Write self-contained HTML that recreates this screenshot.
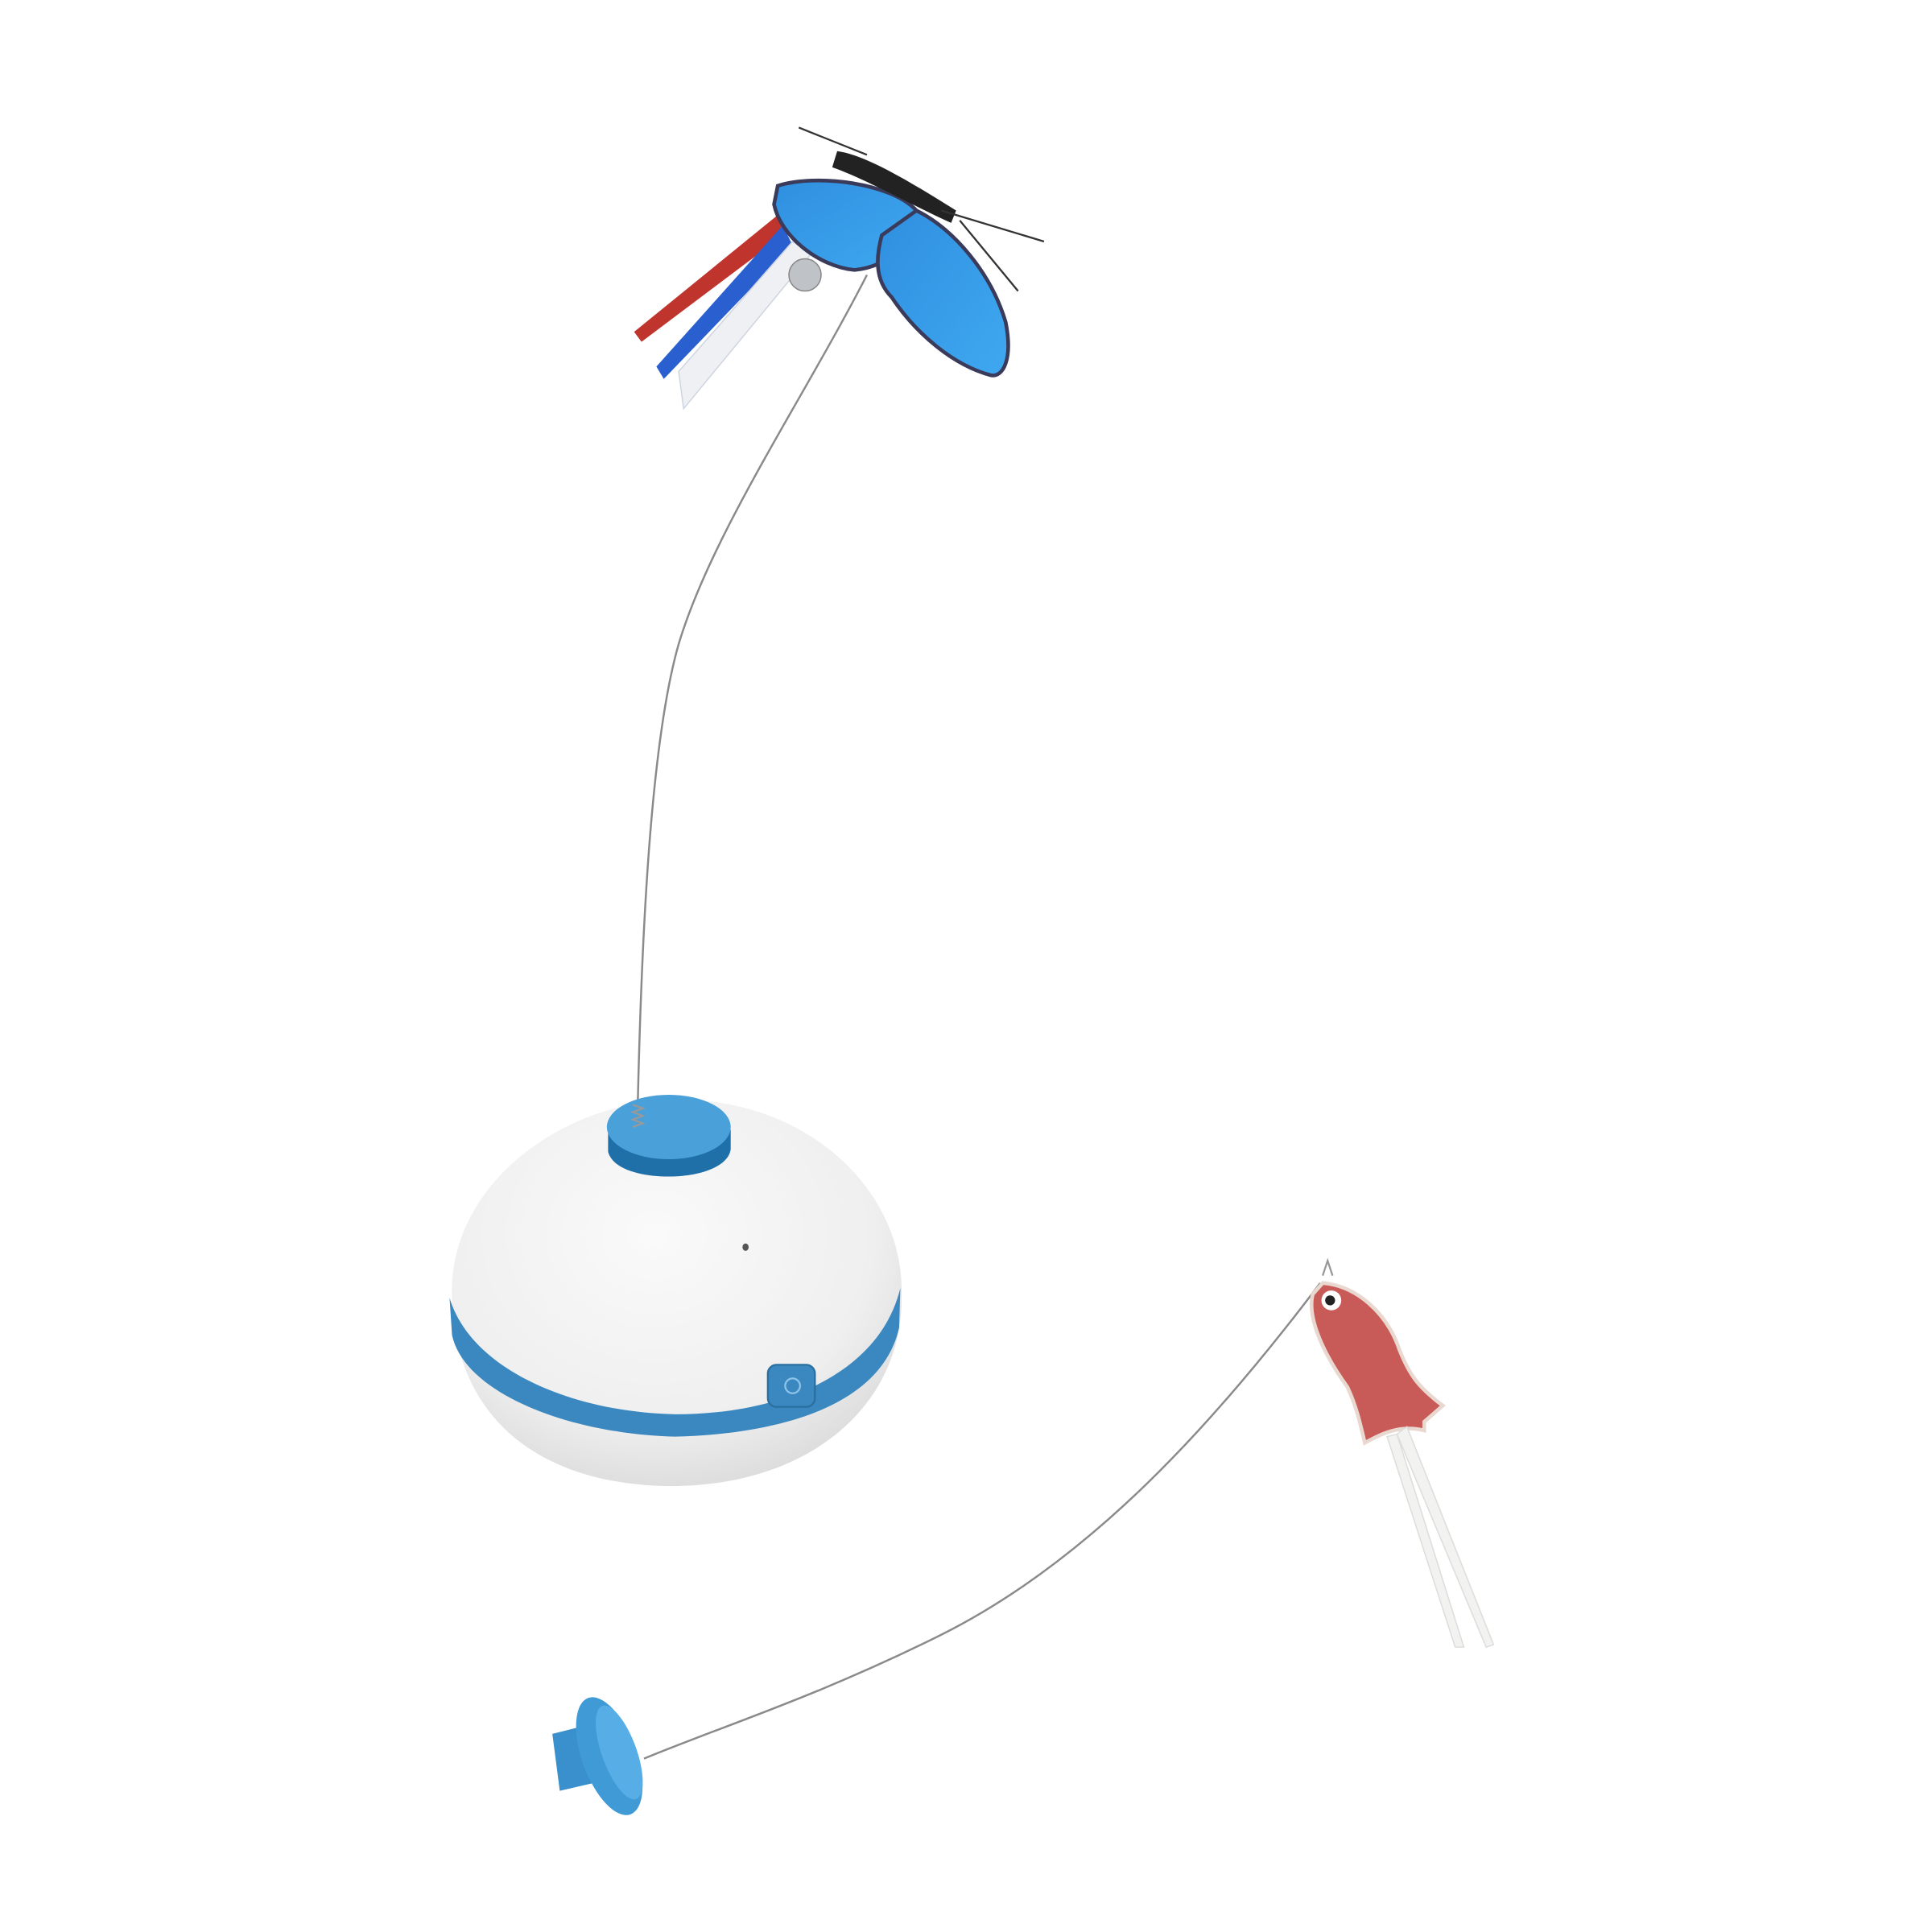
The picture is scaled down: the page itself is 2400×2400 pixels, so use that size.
<!DOCTYPE html>
<html><head><meta charset="utf-8"><style>html,body{margin:0;padding:0;background:#fff}svg{display:block}</style></head>
<body>
<svg width="2400" height="2400" viewBox="0 0 1560 1560" xmlns="http://www.w3.org/2000/svg">
<defs>
<radialGradient id="ballg" cx="0.45" cy="0.35" r="0.7">
<stop offset="0" stop-color="#fafafa"/><stop offset="0.7" stop-color="#efefef"/><stop offset="1" stop-color="#d9d9d9"/>
</radialGradient>
<linearGradient id="wing" x1="0" y1="0" x2="1" y2="1">
<stop offset="0" stop-color="#2f8fe0"/><stop offset="1" stop-color="#3fa8f0"/>
</linearGradient>
</defs>
<!-- wires -->
<path d="M700,222 C650,320 575,430 548,520 C525,600 518,760 515,890" fill="none" stroke="#8a8a8a" stroke-width="1.6"/>
<path d="M1066,1036 C980,1150 880,1260 760,1320 C660,1370 580,1395 520,1420" fill="none" stroke="#8a8a8a" stroke-width="1.6"/>
<!-- ball -->
<path d="M365,1050 C360,960 450,890 545,888 C650,886 730,960 728,1045 C730,1130 660,1198 545,1200 C430,1200 368,1140 365,1050 Z" fill="url(#ballg)"/>
<path d="M363,1048 C380,1105 460,1140 545,1142 C630,1142 710,1110 727,1040 L726,1072 C712,1135 630,1158 545,1160 C460,1158 375,1125 365,1078 Z" fill="#3a88bf"/>
<rect x="620" y="1102" width="38" height="34" rx="7" fill="#3a88bf" stroke="#2a6f9f" stroke-width="1.5"/>
<circle cx="640" cy="1119" r="6" fill="none" stroke="#8cc3ea" stroke-width="1.5"/>
<ellipse cx="602" cy="1007" rx="2.5" ry="3" fill="#555"/>
<!-- top cap -->
<path d="M491,912 L491,930 C495,945 520,950 540,950 C565,950 588,942 590,928 L590,912 Z" fill="#1f6fa8"/>
<ellipse cx="540" cy="910" rx="50" ry="26" fill="#4aa0d8"/>
<!-- spring -->
<path d="M511,892 l8,3 l-8,3 l8,3 l-8,3 l8,3 l-8,3" fill="none" stroke="#999" stroke-width="1.5"/>
<!-- ribbons -->
<path d="M630,172 L512,268 L518,276 L635,188 Z" fill="#c0342e"/>
<path d="M632,182 L530,296 L536,306 L640,198 Z" fill="#2a5fd0"/>
<path d="M640,195 L548,300 L552,330 L655,205 Z" fill="#eef0f4" stroke="#cfd5e0" stroke-width="1"/>
<!-- bell -->
<circle cx="650" cy="222" r="13" fill="#bfc3c8" stroke="#888" stroke-width="1"/>
<!-- wings -->
<path d="M628,150 C660,140 720,148 740,170 C735,195 720,215 690,218 C660,215 630,190 625,165 Z" fill="url(#wing)" stroke="#3a3a5a" stroke-width="3"/>
<path d="M740,170 C770,185 800,220 812,260 C818,290 810,305 800,303 C770,295 740,270 720,240 C705,225 708,205 712,190 Z" fill="url(#wing)" stroke="#3a3a5a" stroke-width="3"/>
<!-- body -->
<path d="M676,122 C700,125 740,150 772,170 L768,180 C735,165 700,145 672,135 Z" fill="#222"/>
<path d="M645,103 L700,125 M760,170 L843,195 M775,178 L822,235" fill="none" stroke="#333" stroke-width="1.5"/>
<!-- fish -->
<path d="M1068,1036 C1095,1038 1120,1060 1130,1090 C1138,1110 1145,1120 1165,1135 L1150,1148 L1150,1155 C1130,1150 1115,1158 1102,1165 C1098,1148 1095,1135 1088,1120 C1070,1095 1055,1065 1060,1045 Z" fill="#c85a58" stroke="#e9d8d0" stroke-width="3"/>
<circle cx="1075" cy="1050" r="8" fill="#fff"/><circle cx="1074" cy="1050" r="4" fill="#222"/>
<path d="M1068,1030 L1072,1018 L1076,1030" fill="none" stroke="#999" stroke-width="1.5"/>
<path d="M1120,1160 L1175,1330 L1182,1330 L1128,1158 Z" fill="#f2f2f0" stroke="#ddd"/>
<path d="M1128,1158 L1200,1330 L1206,1328 L1136,1152 Z" fill="#f2f2f0" stroke="#ddd"/>
<!-- blue cap -->
<path d="M446,1400 L470,1394 L478,1440 L452,1446 Z" fill="#3a90cc"/>
<ellipse cx="492" cy="1418" rx="22" ry="50" transform="rotate(-20 492 1418)" fill="#3f9ad6"/>
<ellipse cx="500" cy="1415" rx="14" ry="40" transform="rotate(-20 500 1415)" fill="#57aee6"/>
</svg>
</body></html>
